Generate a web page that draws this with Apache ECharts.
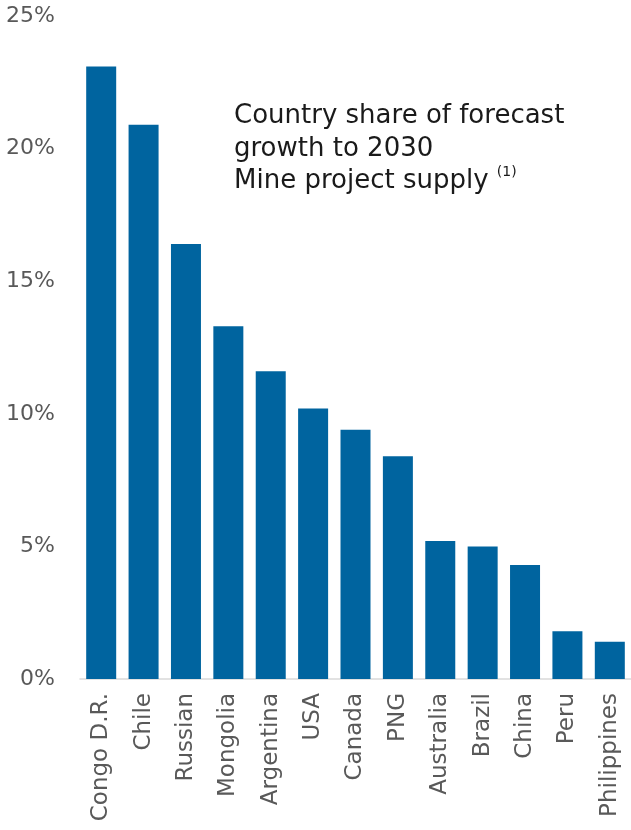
<!DOCTYPE html>
<html>
<head>
<meta charset="utf-8">
<script src="https://cdn.jsdelivr.net/npm/echarts@6/dist/echarts.min.js"></script>
<style>
  html, body { margin: 0; padding: 0; background: #fff; }
  #chart { width: 631px; height: 830px; }
</style>
</head>
<body>
<div id="chart"></div>
<script>
// Country share of forecast mine-supply growth to 2030 (%)
const countries = ['Congo D.R.', 'Chile', 'Russian', 'Mongolia', 'Argentina', 'USA', 'Canada', 'PNG', 'Australia', 'Brazil', 'China', 'Peru', 'Philippines'];
const shares = [23.1, 20.9, 16.4, 13.3, 11.6, 10.2, 9.4, 8.4, 5.2, 5.0, 4.3, 1.8, 1.4];
const yTicks = [0, 5, 10, 15, 20, 25];

const FONT = 'DejaVu Sans';
const chart = echarts.init(document.getElementById('chart'));
chart.setOption({
  animation: false,
  backgroundColor: '#ffffff',
  grid: { left: 80, right: -4, top: 16, bottom: 151, containLabel: false },
  title: {
    left: 234,
    top: 100,
    padding: 0,
    text: '{t|Country share of forecast}\n{t|growth to 2030}\n{t|Mine project supply }{s|(1)}',
    textStyle: {
      fontWeight: 'normal',
      rich: {
        t: { fontFamily: FONT, fontSize: 26, fontWeight: 'normal', color: '#1a1a1a', lineHeight: 32.5 },
        s: { fontFamily: FONT, fontSize: 14, fontWeight: 'normal', color: '#1a1a1a', verticalAlign: 'top', lineHeight: 32.5, padding: [0, 0, 14, 0] }
      }
    }
  },
  xAxis: {
    type: 'category',
    data: countries,
    axisLine: { lineStyle: { color: '#d9d9d9', width: 1.5 } },
    axisTick: { show: false },
    axisLabel: {
      rotate: 90,
      interval: 0,
      margin: 14,
      fontFamily: FONT,
      fontSize: 23,
      color: '#595959'
    }
  },
  yAxis: {
    type: 'value',
    min: yTicks[0],
    max: yTicks[yTicks.length - 1],
    interval: 5,
    splitLine: { show: false },
    axisLine: { show: false },
    axisTick: { show: false },
    axisLabel: {
      margin: 25,
      fontFamily: FONT,
      fontSize: 22,
      color: '#595959',
      formatter: '{value}%'
    }
  },
  series: [{
    type: 'bar',
    data: shares,
    barWidth: 30,
    itemStyle: { color: '#00649f' }
  }]
});
</script>
</body>
</html>
